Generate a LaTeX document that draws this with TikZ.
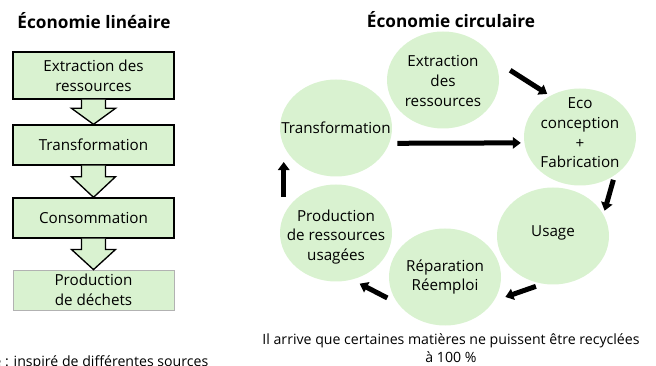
\documentclass[tikz,border=0pt]{standalone}
\usepackage{fontspec}
\setmainfont{Open Sans}
\usetikzlibrary{shapes.geometric,arrows.meta,positioning,calc}
\definecolor{vertclair}{RGB}{217,242,208}
\tikzset{>=latex}

\begin{document}
\begin{tikzpicture}[x=0.75pt,y=-0.75pt,
    boite/.style={draw=black,line width=1pt,fill=vertclair,minimum width=120.75pt,
      minimum height=30pt,align=center,inner sep=0pt,font=\fontsize{11.4}{14.8}\selectfont},
    bulle/.style={ellipse,fill=vertclair,minimum width=84pt,minimum height=72.75pt,inner sep=0pt},
    texte/.style={align=center,font=\fontsize{11.4}{14.8}\selectfont},
    titre/.style={font=\fontsize{12.9}{15}\selectfont\bfseries},
    petit/.style={font=\fontsize{10.6}{13.5}\selectfont},
    bloc/.style={draw=black,line width=1pt,fill=vertclair,line join=miter},
    fleche/.style={line width=3.75pt,-{Triangle[length=6pt,width=8.5pt]}}]
  \clip (0,0) rectangle (656,366);

  % economie lineaire
  \node [titre] (tlin) at (94,21) {Économie linéaire};
  \node [boite,minimum height=35.25pt] (ext) at (93.5,75.5) {Extraction des\\ressources};
  \node [boite] (tra) at (93.5,145) {Transformation};
  \node [boite] (con) at (93.5,218) {Consommation};
  \node [boite,draw=gray!60,line width=0.6pt] (dec) at (93.5,290) {Production\\de déchets};
  \foreach \a/\b in {ext/tra,tra/con,con/dec}
    \draw [bloc] ($(\a.south)+(-12,0)$) -- ($(\a.south)!.35!(\b.north)+(-12,0)$) -- ++(-10,0)
      -- (\b.north) -- ($(\a.south)!.35!(\b.north)+(22,0)$) -- ++(-10,0) -- ($(\a.south)+(12,0)$);

  % economie circulaire
  \node [titre] (tcir) at (451,20) {Économie circulaire};
  \node [bulle] (extr) at (443,80) {};
  \node [bulle] (trans) at (336,128) {};
  \node [bulle] (eco) at (580,137) {};
  \node [bulle] (usage) at (553,236) {};
  \node [bulle] (rep) at (445,277) {};
  \node [bulle] (prod) at (336,233) {};
  \node [texte] (extr-t) at (443,81) {Extraction\\des\\ressources};
  \node [texte] (trans-t) at (336,128) {Transformation};
  \node [texte] (eco-t) at (580,133) {Eco\\conception\\+\\Fabrication};
  \node [texte] (usage-t) at (553,233) {Usage};
  \node [texte] (rep-t) at (445,277) {Réparation\\Réemploi};
  \node [texte] (prod-t) at (336,237) {Production\\de ressources\\usagées};

  \draw [fleche,shorten <=14pt,shorten >=2.5pt] (extr.21) -- (eco.126);
  \draw [fleche,shorten <=6pt,shorten >=2.5pt] (trans.-16) -- (eco.186);
  \draw [fleche,shorten <=3.4pt,shorten >=3pt] (eco.-48) -- (usage.23);
  \draw [fleche,shorten <=5.5pt,shorten >=9pt] (usage.-102) -- (rep.-26);
  \draw [fleche,shorten <=8.7pt,shorten >=6.4pt] (rep.-151) -- (prod.-71);
  \draw [fleche,shorten <=13.5pt,shorten >=12pt] (prod.161) -- (trans.199);

  \node [petit,align=center] (note) at (451,348) {Il arrive que certaines matières ne puissent être recyclées\\à 100 \%};
  \node [petit,anchor=base east] (src) at (213,366) {Source : inspiré de différentes sources};
\end{tikzpicture}
\end{document}
